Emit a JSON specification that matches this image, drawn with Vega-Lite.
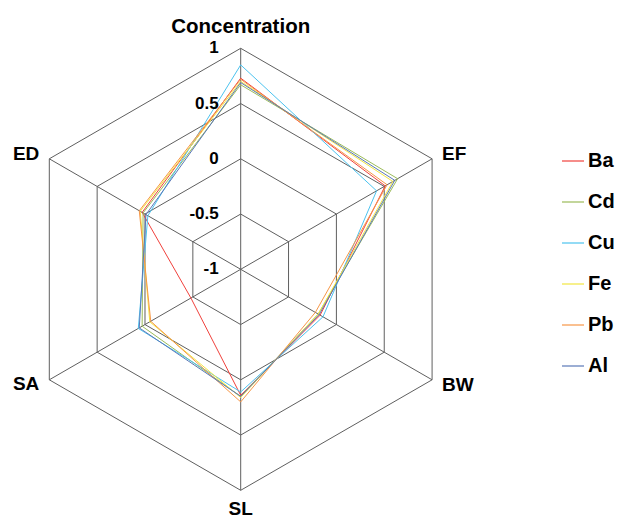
{
  "$schema": "https://vega.github.io/schema/vega-lite/v6.json",
  "width": 621,
  "height": 520,
  "padding": 0,
  "autosize": {"type": "none"},
  "background": "white",
  "config": {"view": {"stroke": null}, "font": "Liberation Sans"},
  "datasets": {
    "series": [
      {"element": "Ba", "axis": "Concentration", "value": 0.73},
      {"element": "Ba", "axis": "EF", "value": 0.51},
      {"element": "Ba", "axis": "BW", "value": -0.17},
      {"element": "Ba", "axis": "SL", "value": 0.14},
      {"element": "Ba", "axis": "SA", "value": -0.48},
      {"element": "Ba", "axis": "ED", "value": 0.03},
      {"element": "Cd", "axis": "Concentration", "value": 0.67},
      {"element": "Cd", "axis": "EF", "value": 0.64},
      {"element": "Cd", "axis": "BW", "value": -0.19},
      {"element": "Cd", "axis": "SL", "value": 0.15},
      {"element": "Cd", "axis": "SA", "value": 0.03},
      {"element": "Cd", "axis": "ED", "value": 0.02},
      {"element": "Cu", "axis": "Concentration", "value": 0.85},
      {"element": "Cu", "axis": "EF", "value": 0.42},
      {"element": "Cu", "axis": "BW", "value": -0.14},
      {"element": "Cu", "axis": "SL", "value": 0.11},
      {"element": "Cu", "axis": "SA", "value": 0.07},
      {"element": "Cu", "axis": "ED", "value": -0.03},
      {"element": "Fe", "axis": "Concentration", "value": 0.70},
      {"element": "Fe", "axis": "EF", "value": 0.59},
      {"element": "Fe", "axis": "BW", "value": -0.19},
      {"element": "Fe", "axis": "SL", "value": 0.16},
      {"element": "Fe", "axis": "SA", "value": -0.05},
      {"element": "Fe", "axis": "ED", "value": 0.05},
      {"element": "Pb", "axis": "Concentration", "value": 0.72},
      {"element": "Pb", "axis": "EF", "value": 0.53},
      {"element": "Pb", "axis": "BW", "value": -0.22},
      {"element": "Pb", "axis": "SL", "value": 0.20},
      {"element": "Pb", "axis": "SA", "value": -0.06},
      {"element": "Pb", "axis": "ED", "value": 0.06},
      {"element": "Al", "axis": "Concentration", "value": 0.69},
      {"element": "Al", "axis": "EF", "value": 0.61},
      {"element": "Al", "axis": "BW", "value": -0.18},
      {"element": "Al", "axis": "SL", "value": 0.15},
      {"element": "Al", "axis": "SA", "value": 0.06},
      {"element": "Al", "axis": "ED", "value": -0.01}
    ],
    "grid": [
      {"axis": "Concentration", "levels": [-0.5, 0, 0.5, 1]},
      {"axis": "EF", "levels": [-0.5, 0, 0.5, 1]},
      {"axis": "BW", "levels": [-0.5, 0, 0.5, 1]},
      {"axis": "SL", "levels": [-0.5, 0, 0.5, 1]},
      {"axis": "SA", "levels": [-0.5, 0, 0.5, 1]},
      {"axis": "ED", "levels": [-0.5, 0, 0.5, 1]}
    ],
    "ticks": [
      {"label": "1", "value": 1},
      {"label": "0.5", "value": 0.5},
      {"label": "0", "value": 0},
      {"label": "-0.5", "value": -0.5},
      {"label": "-1", "value": -1}
    ]
  },
  "encoding": {
    "x": {"field": "x", "type": "quantitative", "scale": {"domain": [-1.0891, 1.7208], "nice": false, "zero": false}, "axis": null},
    "y": {"field": "y", "type": "quantitative", "scale": {"domain": [-1.1344, 1.2186], "nice": false, "zero": false}, "axis": null}
  },
  "layer": [
    {
      "data": {"name": "grid"},
      "transform": [
        {"flatten": ["levels"], "as": ["level"]},
        {"calculate": "indexof(['Concentration','EF','BW','SL','SA','ED'], datum.axis)", "as": "idx"},
        {"calculate": "(datum.level + 1) / 2", "as": "r"},
        {"calculate": "datum.r * sin(datum.idx * PI / 3)", "as": "x"},
        {"calculate": "datum.r * cos(datum.idx * PI / 3)", "as": "y"}
      ],
      "mark": {"type": "line", "interpolate": "linear-closed", "stroke": "#5f5f5f", "strokeWidth": 1},
      "encoding": {
        "detail": {"field": "level", "type": "nominal"},
        "order": {"field": "idx", "type": "quantitative"}
      }
    },
    {
      "data": {"name": "grid"},
      "transform": [
        {"calculate": "indexof(['Concentration','EF','BW','SL','SA','ED'], datum.axis)", "as": "idx"},
        {"calculate": "sin(datum.idx * PI / 3)", "as": "x"},
        {"calculate": "cos(datum.idx * PI / 3)", "as": "y"}
      ],
      "mark": {"type": "rule", "stroke": "#5f5f5f", "strokeWidth": 1},
      "encoding": {
        "x2": {"datum": 0},
        "y2": {"datum": 0}
      }
    },
    {
      "data": {"name": "series"},
      "transform": [
        {"calculate": "indexof(['Concentration','EF','BW','SL','SA','ED'], datum.axis)", "as": "idx"},
        {"calculate": "(datum.value + 1) / 2", "as": "r"},
        {"calculate": "datum.r * sin(datum.idx * PI / 3)", "as": "x"},
        {"calculate": "datum.r * cos(datum.idx * PI / 3)", "as": "y"}
      ],
      "mark": {"type": "line", "interpolate": "linear-closed", "strokeWidth": 1},
      "encoding": {
        "color": {
          "field": "element",
          "type": "nominal",
          "scale": {"domain": ["Ba", "Cd", "Cu", "Fe", "Pb", "Al"], "range": ["#f0413c", "#9bbb59", "#4cc3ef", "#f2e640", "#f79646", "#5a78b8"]},
          "legend": {
            "title": null,
            "orient": "none",
            "legendX": 561,
            "legendY": 149,
            "symbolType": "stroke",
            "symbolSize": 484,
            "symbolStrokeWidth": 1.2,
            "labelFont": "Liberation Sans",
            "labelFontSize": 20,
            "labelFontWeight": "bold",
            "labelColor": "black",
            "labelOffset": 3,
            "rowPadding": 19
          }
        },
        "detail": {"field": "element", "type": "nominal"},
        "order": {"field": "idx", "type": "quantitative"}
      }
    },
    {
      "data": {"name": "ticks"},
      "transform": [
        {"calculate": "0", "as": "x"},
        {"calculate": "(datum.value + 1) / 2", "as": "y"}
      ],
      "mark": {"type": "text", "align": "right", "baseline": "middle", "dx": -22, "fontSize": 17, "fontWeight": "bold", "color": "black"},
      "encoding": {"text": {"field": "label", "type": "nominal"}}
    },
    {
      "data": {"name": "grid"},
      "transform": [
        {"filter": "datum.axis == 'Concentration'"},
        {"calculate": "0", "as": "x"},
        {"calculate": "1", "as": "y"}
      ],
      "mark": {"type": "text", "align": "center", "baseline": "alphabetic", "dy": -15, "fontSize": 20.5, "fontWeight": "bold", "color": "black"},
      "encoding": {"text": {"field": "axis", "type": "nominal"}}
    },
    {
      "data": {"name": "grid"},
      "transform": [
        {"filter": "datum.axis == 'SL'"},
        {"calculate": "0", "as": "x"},
        {"calculate": "-1", "as": "y"}
      ],
      "mark": {"type": "text", "align": "center", "baseline": "alphabetic", "dy": 25, "fontSize": 19, "fontWeight": "bold", "color": "black"},
      "encoding": {"text": {"field": "axis", "type": "nominal"}}
    },
    {
      "data": {"name": "grid"},
      "transform": [
        {"filter": "datum.axis == 'EF' || datum.axis == 'ED'"},
        {"calculate": "indexof(['Concentration','EF','BW','SL','SA','ED'], datum.axis)", "as": "idx"},
        {"calculate": "sin(datum.idx * PI / 3)", "as": "x"},
        {"calculate": "cos(datum.idx * PI / 3)", "as": "y"}
      ],
      "layer": [
        {
          "transform": [{"filter": "datum.axis == 'EF'"}],
          "mark": {"type": "text", "align": "left", "baseline": "alphabetic", "dx": 10, "dy": 1, "fontSize": 19, "fontWeight": "bold", "color": "black"},
          "encoding": {"text": {"field": "axis", "type": "nominal"}}
        },
        {
          "transform": [{"filter": "datum.axis == 'ED'"}],
          "mark": {"type": "text", "align": "right", "baseline": "alphabetic", "dx": -10, "dy": 1, "fontSize": 19, "fontWeight": "bold", "color": "black"},
          "encoding": {"text": {"field": "axis", "type": "nominal"}}
        }
      ]
    },
    {
      "data": {"name": "grid"},
      "transform": [
        {"filter": "datum.axis == 'BW' || datum.axis == 'SA'"},
        {"calculate": "indexof(['Concentration','EF','BW','SL','SA','ED'], datum.axis)", "as": "idx"},
        {"calculate": "sin(datum.idx * PI / 3)", "as": "x"},
        {"calculate": "cos(datum.idx * PI / 3)", "as": "y"}
      ],
      "layer": [
        {
          "transform": [{"filter": "datum.axis == 'BW'"}],
          "mark": {"type": "text", "align": "left", "baseline": "alphabetic", "dx": 10, "dy": 11, "fontSize": 19, "fontWeight": "bold", "color": "black"},
          "encoding": {"text": {"field": "axis", "type": "nominal"}}
        },
        {
          "transform": [{"filter": "datum.axis == 'SA'"}],
          "mark": {"type": "text", "align": "right", "baseline": "alphabetic", "dx": -10, "dy": 10, "fontSize": 19, "fontWeight": "bold", "color": "black"},
          "encoding": {"text": {"field": "axis", "type": "nominal"}}
        }
      ]
    }
  ]
}
